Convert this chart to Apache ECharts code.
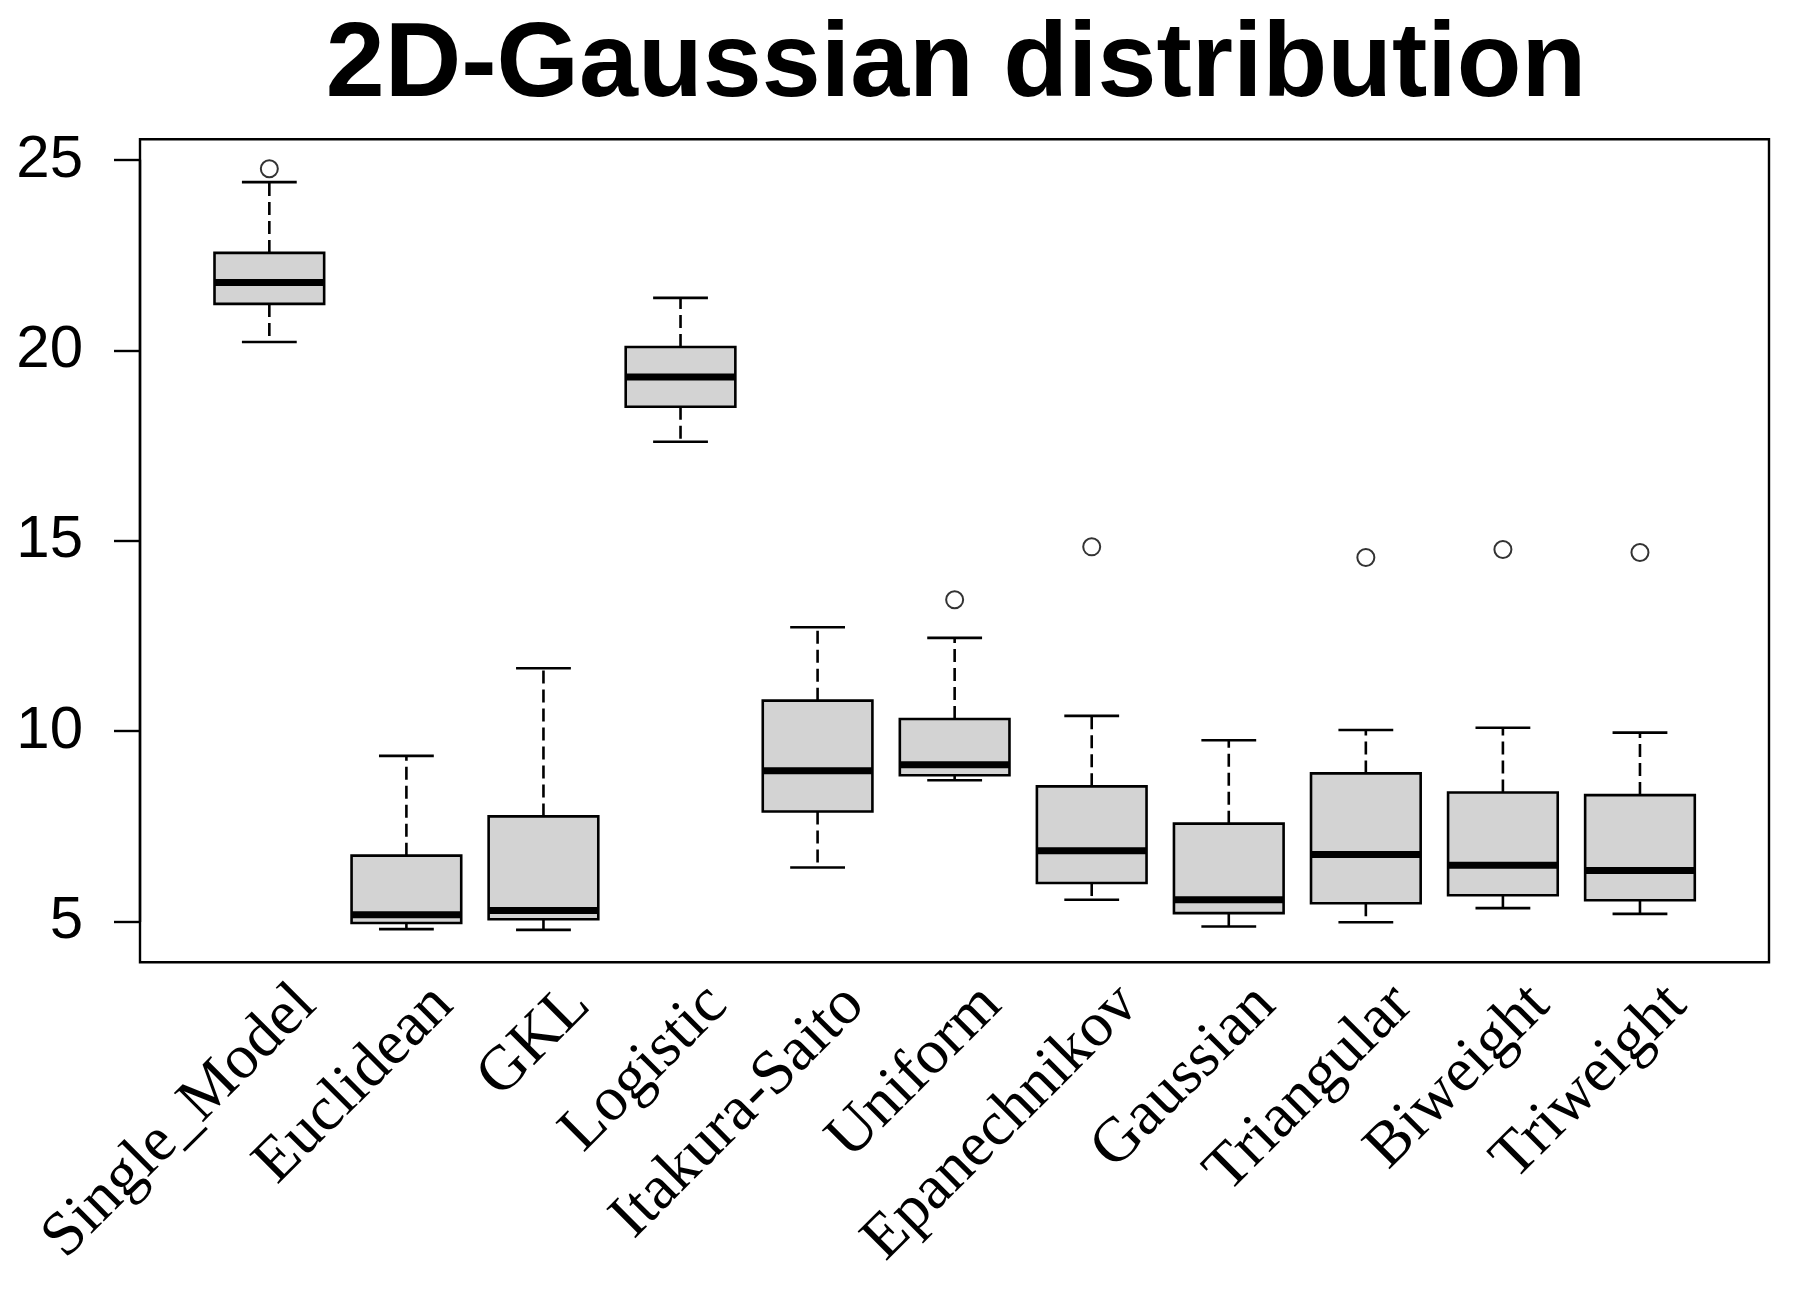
<!DOCTYPE html>
<html>
<head>
<meta charset="utf-8">
<script src="https://cdn.jsdelivr.net/npm/echarts@6/dist/echarts.min.js"></script>
<style>
  html, body { margin: 0; padding: 0; background: #fff; }
  #chart { width: 1807px; height: 1311px; }
</style>
</head>
<body>
<div id="chart"></div>
<script>
  const categories = [
    "Single_Model", "Euclidean", "GKL", "Logistic", "Itakura-Saito", "Uniform",
    "Epanechnikov", "Gaussian", "Triangular", "Biweight", "Triweight",
  ];
  const lowerWhisker = [20.22, 4.80, 4.78, 17.60, 6.42, 8.71, 5.57, 4.87, 4.98, 5.35, 5.20];
  const q1 = [21.22, 4.96, 5.06, 18.52, 7.89, 8.84, 6.01, 5.22, 5.48, 5.69, 5.56];
  const median = [21.78, 5.18, 5.29, 19.30, 8.96, 9.12, 6.86, 5.57, 6.76, 6.48, 6.34];
  const q3 = [22.56, 6.73, 7.76, 20.09, 10.80, 10.32, 8.55, 7.57, 8.89, 8.39, 8.32];
  const upperWhisker = [24.42, 9.35, 11.65, 21.38, 12.73, 12.45, 10.40, 9.76, 10.03, 10.09, 9.96];
  // outliers as [category index, value]
  const outliers = [
    [0, 24.77], [5, 13.45], [6, 14.84], [8, 14.56], [9, 14.77], [10, 14.69],
  ];
  const yTicks = { min: 5, max: 25, interval: 5 };

  const boxData = categories.map((_, i) => [i, lowerWhisker[i], q1[i], median[i], q3[i], upperWhisker[i]]);

  const chart = echarts.init(document.getElementById("chart"));

  function renderBox(params, api) {
    const idx = api.value(0);
    const band = api.size([1, 0])[0];
    const boxW = band * 0.8;
    const capW = band * 0.4;
    const pLow = api.coord([idx, api.value(1)]);
    const pQ1 = api.coord([idx, api.value(2)]);
    const pMed = api.coord([idx, api.value(3)]);
    const pQ3 = api.coord([idx, api.value(4)]);
    const pHigh = api.coord([idx, api.value(5)]);
    const x = pMed[0];
    const line = { stroke: "#000", lineWidth: 2.6 };
    const dashed = { stroke: "#000", lineWidth: 2.6, lineDash: [13, 6] };
    return {
      type: "group",
      children: [
        { type: "line", shape: { x1: x, y1: pQ3[1], x2: x, y2: pHigh[1] }, style: dashed },
        { type: "line", shape: { x1: x, y1: pQ1[1], x2: x, y2: pLow[1] }, style: dashed },
        { type: "line", shape: { x1: x - capW / 2, y1: pHigh[1], x2: x + capW / 2, y2: pHigh[1] }, style: line },
        { type: "line", shape: { x1: x - capW / 2, y1: pLow[1], x2: x + capW / 2, y2: pLow[1] }, style: line },
        {
          type: "rect",
          shape: { x: x - boxW / 2, y: pQ3[1], width: boxW, height: pQ1[1] - pQ3[1] },
          style: { fill: "#d3d3d3", stroke: "#000", lineWidth: 2.6 },
        },
        {
          type: "line",
          shape: { x1: x - boxW / 2, y1: pMed[1], x2: x + boxW / 2, y2: pMed[1] },
          style: { stroke: "#000", lineWidth: 7 },
        },
      ],
    };
  }

  chart.setOption({
    backgroundColor: "#fff",
    animation: false,
    title: {
      text: "2D-Gaussian distribution",
      left: 951,
      top: 9,
      textAlign: "center",
      textStyle: { fontFamily: "Liberation Sans", fontWeight: "bold", fontSize: 106, color: "#000" },
    },
    graphic: [
      {
        type: "rect",
        shape: { x: 140, y: 139.3, width: 1629, height: 823 },
        style: { fill: "none", stroke: "#000", lineWidth: 2.4 },
        z: 10,
      },
    ],
    grid: [
      { left: 200.8, right: 98.5, top: 160, bottom: 389.5 },
      { left: 237.8, right: 61.5, top: 160, bottom: 389.5 },
    ],
    xAxis: [
      {
        type: "category",
        gridIndex: 0,
        data: categories,
        axisLine: { show: false },
        axisTick: { show: false },
        axisLabel: { show: false },
        splitLine: { show: false },
      },
      {
        type: "category",
        gridIndex: 1,
        data: categories,
        axisLine: { show: false },
        axisTick: { show: false },
        splitLine: { show: false },
        axisLabel: {
          interval: 0,
          rotate: 45,
          margin: 74,
          fontFamily: "Liberation Serif",
          fontSize: 63,
          color: "#000",
        },
      },
    ],
    yAxis: [
      {
        type: "value",
        gridIndex: 0,
        min: yTicks.min,
        max: yTicks.max,
        interval: yTicks.interval,
        offset: 60.8,
        axisLine: { show: true, lineStyle: { color: "#000", width: 2.4 } },
        axisTick: { show: true, length: 26, lineStyle: { color: "#000", width: 2.4 } },
        axisLabel: { margin: 57, fontFamily: "Liberation Sans", fontSize: 60, color: "#000" },
        splitLine: { show: false },
      },
      { type: "value", gridIndex: 1, show: false, min: 0, max: 1 },
    ],
    series: [
      {
        name: "box",
        type: "custom",
        xAxisIndex: 0,
        yAxisIndex: 0,
        clip: false,
        renderItem: renderBox,
        encode: { x: 0, y: [1, 2, 3, 4, 5] },
        data: boxData,
      },
      {
        name: "outliers",
        type: "scatter",
        xAxisIndex: 0,
        yAxisIndex: 0,
        symbol: "circle",
        symbolSize: 17,
        itemStyle: { color: "rgba(0,0,0,0)", borderColor: "#000", borderWidth: 2 },
        data: outliers,
      },
    ],
  });
</script>
</body>
</html>
